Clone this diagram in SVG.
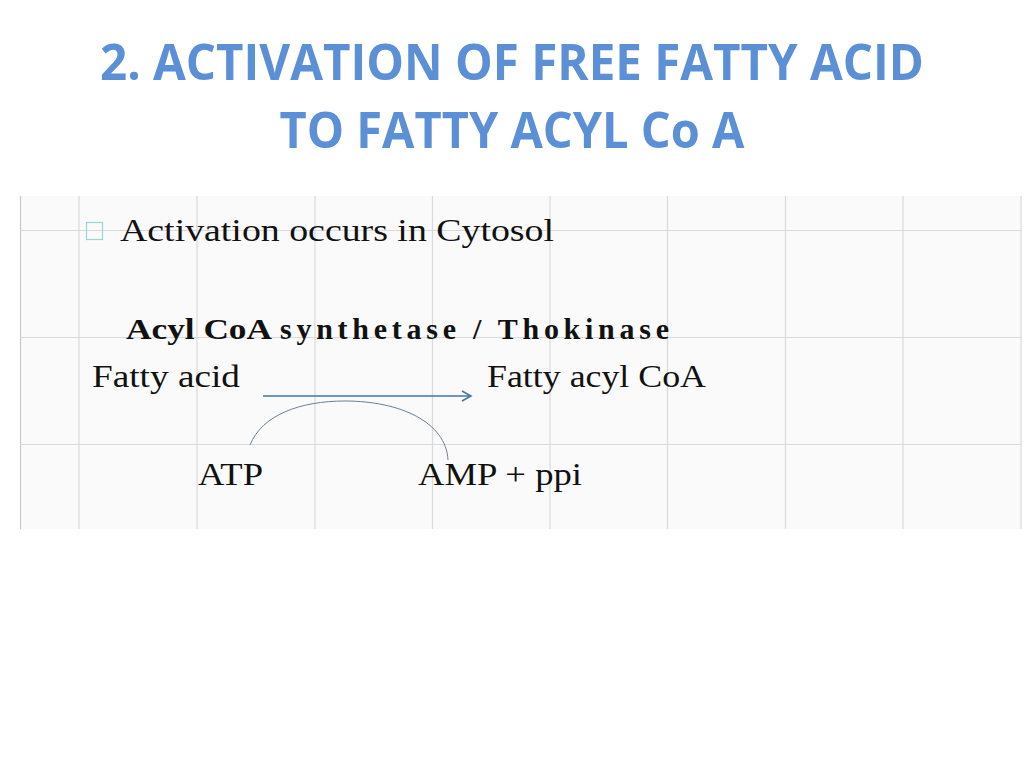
<svg xmlns="http://www.w3.org/2000/svg" width="1024" height="768" viewBox="0 0 1024 768">
<defs>
<style>
.title{font-family:"Open Sans","Liberation Sans",sans-serif;font-weight:bold;font-size:50px;fill:#5b8fd6;text-anchor:middle}
.body{font-family:"Liberation Serif","DejaVu Serif",serif;font-size:32px;fill:#111}
.enz{font-family:"Liberation Serif","DejaVu Serif",serif;font-size:30px;font-weight:bold;fill:#111}
.grid line{stroke:#dadada;stroke-width:1.2}
</style>
<marker id="arr" markerWidth="12" markerHeight="12" refX="10" refY="6" orient="auto" markerUnits="userSpaceOnUse">
<path d="M1,1 L10,6 L1,11" fill="none" stroke="#3f73a8" stroke-width="1.5"/>
</marker>
</defs>
<rect width="1024" height="768" fill="#ffffff"/>
<g id="title">
<text class="title" x="512" y="80" textLength="824" lengthAdjust="spacingAndGlyphs">2. ACTIVATION OF FREE FATTY ACID</text>
<text class="title" x="512" y="148" textLength="465" lengthAdjust="spacingAndGlyphs">TO FATTY ACYL Co A</text>
</g>
<g id="panel">
<rect x="20" y="196" width="1002" height="333" fill="#fafafa"/>
<g class="grid">
<line x1="20.5" y1="196" x2="20.5" y2="529" style="stroke:#c8c8c8"/>
<line x1="79" y1="196" x2="79" y2="529"/>
<line x1="197" y1="196" x2="197" y2="529"/>
<line x1="315" y1="196" x2="315" y2="529"/>
<line x1="432.5" y1="196" x2="432.5" y2="529"/>
<line x1="550" y1="196" x2="550" y2="529"/>
<line x1="667.5" y1="196" x2="667.5" y2="529"/>
<line x1="785.5" y1="196" x2="785.5" y2="529"/>
<line x1="903" y1="196" x2="903" y2="529"/>
<line x1="1021" y1="196" x2="1021" y2="529"/>
<line x1="20" y1="230.5" x2="1022" y2="230.5"/>
<line x1="20" y1="337.5" x2="1022" y2="337.5"/>
<line x1="20" y1="444.5" x2="1022" y2="444.5"/>
</g>
</g>
<g id="bullet">
<rect x="86.5" y="222.5" width="16" height="17" fill="none" stroke="#9ad6d6" stroke-width="1.2"/>
<text class="body" x="120" y="241" textLength="434" lengthAdjust="spacingAndGlyphs">Activation occurs in Cytosol</text>
</g>
<g id="enzyme">
<text class="enz" x="126" y="339" textLength="146" lengthAdjust="spacingAndGlyphs">Acyl CoA</text>
<text class="enz" x="280" y="339" textLength="389" lengthAdjust="spacing">synthetase / Thokinase</text>
</g>
<g id="fatty-acid">
<text class="body" x="92" y="387" textLength="148" lengthAdjust="spacingAndGlyphs">Fatty acid</text>
</g>
<g id="fatty-acyl-coa">
<text class="body" x="487" y="387" textLength="219" lengthAdjust="spacingAndGlyphs">Fatty acyl CoA</text>
</g>
<g id="atp">
<text class="body" x="198" y="485" textLength="65" lengthAdjust="spacingAndGlyphs">ATP</text>
</g>
<g id="amp">
<text class="body" x="418" y="485" textLength="164" lengthAdjust="spacingAndGlyphs">AMP + ppi</text>
</g>
<g id="connectors">
<line x1="263" y1="396" x2="471" y2="396" stroke="#3f73a8" stroke-width="1.5" marker-end="url(#arr)"/>
<path d="M250,445 C262,415 300,401 345,401 C400,401 446,422 448,460" fill="none" stroke="#6a8096" stroke-width="1"/>
</g>
</svg>
